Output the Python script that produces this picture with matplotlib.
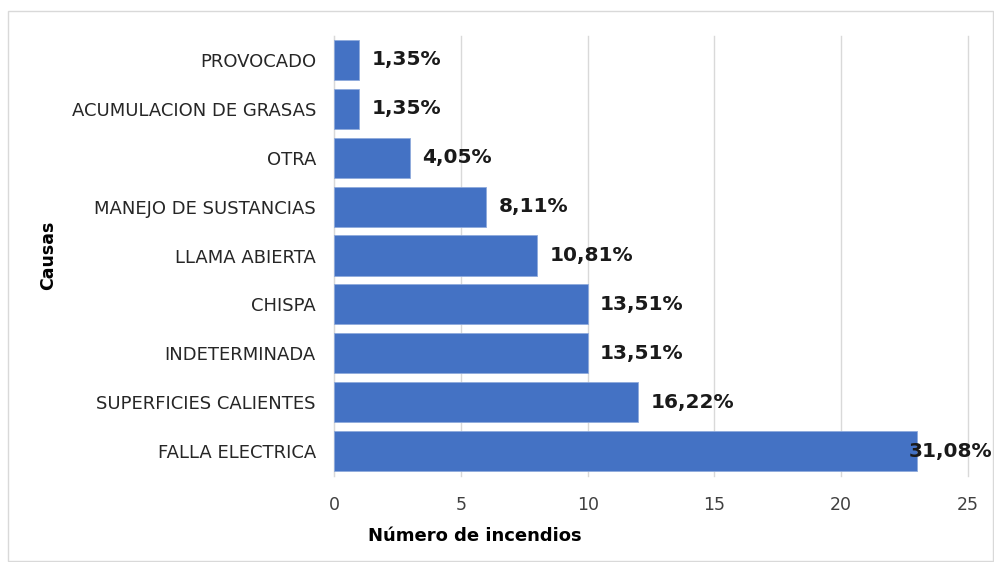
import matplotlib.pyplot as plt
from matplotlib.patches import Rectangle

causas = ["PROVOCADO", "ACUMULACION DE GRASAS", "OTRA", "MANEJO DE SUSTANCIAS",
          "LLAMA ABIERTA", "CHISPA", "INDETERMINADA", "SUPERFICIES CALIENTES",
          "FALLA ELECTRICA"]
incendios = [1, 1, 3, 6, 8, 10, 10, 12, 23]
porcentajes = ["1,35%", "1,35%", "4,05%", "8,11%", "10,81%", "13,51%",
               "13,51%", "16,22%", "31,08%"]
x_ticks = [0, 5, 10, 15, 20, 25]

plt.rcParams["font.family"] = ["DejaVu Sans"]

fig = plt.figure(figsize=(9.95, 5.62), dpi=100)
ax = fig.add_axes([0.3357, 0.1539, 0.6372, 0.7829])

pos = list(range(len(causas)))
ax.barh(pos, incendios, height=0.82, color="#4472C4", edgecolor="#8FAADC",
        linewidth=0.6, zorder=3)
ax.set_ylim(len(causas) - 0.5, -0.5)
ax.set_xlim(0, 25)
ax.set_xticks(x_ticks)
ax.set_yticks(pos)
ax.set_yticklabels(causas, fontsize=13, color="#262626")
ax.tick_params(axis="x", labelsize=12.5, colors="#404040", length=0, pad=15)
ax.tick_params(axis="y", length=0, pad=13)
ax.grid(axis="x", color="#D9D9D9", linewidth=1, zorder=0)
for gl in ax.get_xgridlines():
    gl.set_clip_on(False)
for s in ["top", "right", "bottom"]:
    ax.spines[s].set_visible(False)
ax.spines["left"].set_color("#D9D9D9")

# last label sits over the bar end so it stays inside the frame
last = len(incendios) - 1
for i, (v, p) in enumerate(zip(incendios, porcentajes)):
    off = -6 if i == last else 9
    ax.annotate(p, (v, i), xytext=(off, 0), textcoords="offset points",
                ha="left", va="center", fontsize=14.5, fontweight="bold",
                color="#1a1a1a", annotation_clip=False, zorder=4)

fig.text(0.477, 0.047, "Número de incendios", ha="center", va="center",
         fontsize=13, fontweight="bold")
fig.text(0.048, 0.545, "Causas", ha="center", va="center", rotation=90,
         fontsize=12.5, fontweight="bold")

fig.patches.append(Rectangle((0.008, 0.002), 0.99, 0.978, transform=fig.transFigure,
                             fill=False, edgecolor="#D9D9D9", linewidth=1))

fig.savefig("out.png", dpi=100)
